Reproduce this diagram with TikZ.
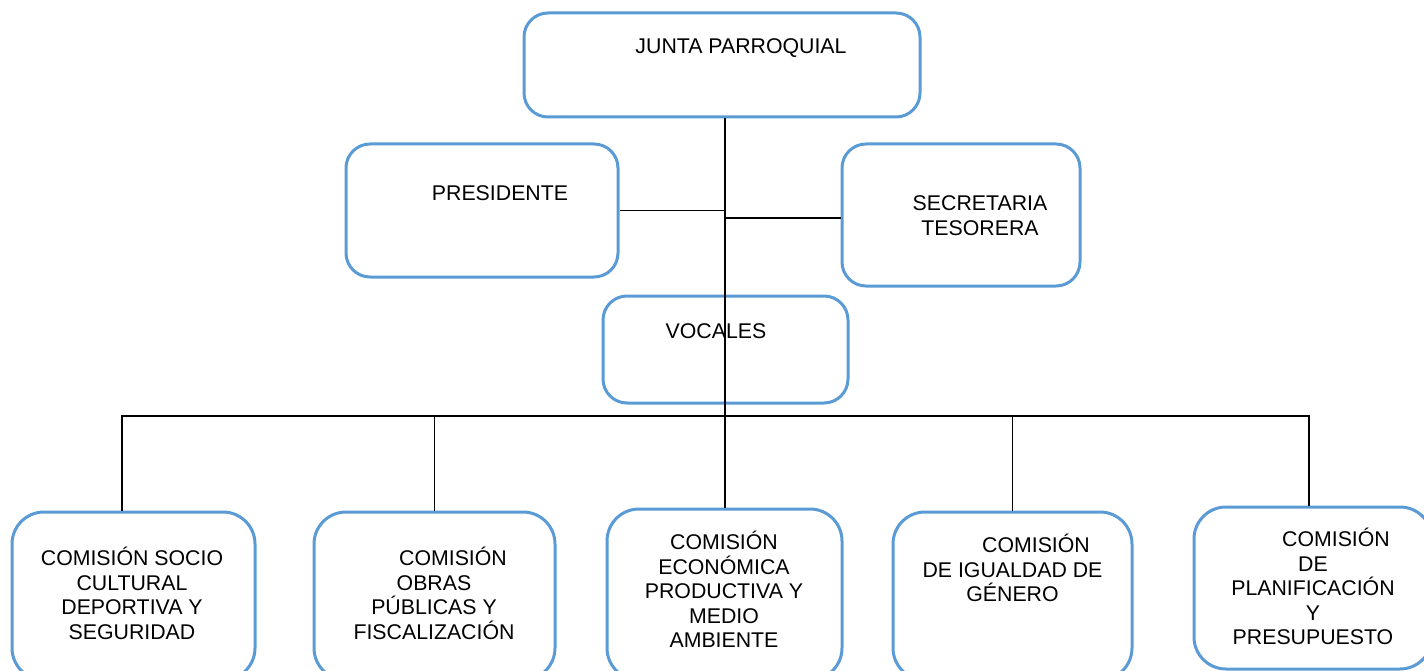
\documentclass[tikz,border=0pt]{standalone}
\usepackage{fontspec}
\setmainfont{Liberation Sans}
\definecolor{boxblue}{HTML}{5B9BD5}
\newcommand\fstrut{\rule{0pt}{22pt}}
\begin{document}
\begin{tikzpicture}[x=1pt,y=-1pt,
  box/.style={draw=boxblue, line width=3pt, rounded corners=24pt, inner sep=0pt, fill=white},
  lowbox/.style={box, rounded corners=32pt},
  conn/.style={draw=black, line width=1.2pt},
  lbl/.style={inner sep=0pt, anchor=north, align=center, font=\fontsize{21.3}{24.5}\selectfont}]
\useasboundingbox (0,0) rectangle (1424,671);
\clip (0,0) rectangle (1424,671);
% boxes
\node[box, minimum width=396pt, minimum height=104pt] (junta) at (722,65) {};
\node[box, minimum width=272pt, minimum height=133pt] (pres) at (482,210.5) {};
\node[box, minimum width=238pt, minimum height=142pt] (sec) at (961,215) {};
\node[box, minimum width=245pt, minimum height=107pt] (voc) at (725.5,349.5) {};
\node[lowbox, minimum width=243pt, minimum height=168pt] (c1) at (133.5,596) {};
\node[lowbox, minimum width=241pt, minimum height=168pt] (c2) at (434.5,596) {};
\node[lowbox, minimum width=235pt, minimum height=171pt] (c3) at (724.5,594.5) {};
\node[lowbox, minimum width=239pt, minimum height=168pt] (c4) at (1012.5,596) {};
\node[lowbox, minimum width=238pt, minimum height=162pt] (c5) at (1313,588) {};
% connectors
\coordinate (bus) at (725,416);
\draw[conn] (junta.south -| bus) -- (c3.north -| bus);
\draw[conn] (pres.east) -- (pres.east -| bus);
\draw[conn] ([yshift=-3pt]sec.west) -- ([yshift=-3pt]sec.west -| bus);
\draw[conn] ([xshift=-11.5pt]c1.north) -- ([xshift=-11.5pt]c1.north |- bus) -- ([xshift=-4pt]c5.north |- bus) -- ([xshift=-4pt]c5.north);
\draw[conn] (c2.north) -- (c2.north |- bus);
\draw[conn] (c4.north) -- (c4.north |- bus);
% texts
\node[lbl] (tjunta) at (741,31.65) {\fstrut JUNTA PARROQUIAL};
\node[lbl] (tpres) at (500,178.65) {\fstrut PRESIDENTE};
\node[lbl] (tsec) at (980,188.65) {\fstrut SECRETARIA\\TESORERA};
\node[lbl] (tvoc) at (716,316.65) {\fstrut VOCALES};
\node[lbl] (tc1) at (132,543.65) {\fstrut COMISIÓN SOCIO\\CULTURAL\\DEPORTIVA Y\\SEGURIDAD};
\node[lbl] (tc2) at (434,543.65) {\fstrut\hspace*{38pt}COMISIÓN\\OBRAS\\PÚBLICAS Y\\FISCALIZACIÓN};
\node[lbl] (tc3) at (724,527.65) {\fstrut COMISIÓN\\ECONÓMICA\\PRODUCTIVA Y\\MEDIO\\AMBIENTE};
\node[lbl] (tc4) at (1012.5,530.65) {\fstrut\hspace*{47pt}COMISIÓN\\DE IGUALDAD DE\\GÉNERO};
\node[lbl] (tc5) at (1313,524.65) {\fstrut\hspace*{46pt}COMISIÓN\\DE\\PLANIFICACIÓN\\Y\\PRESUPUESTO};
\end{tikzpicture}
\end{document}
